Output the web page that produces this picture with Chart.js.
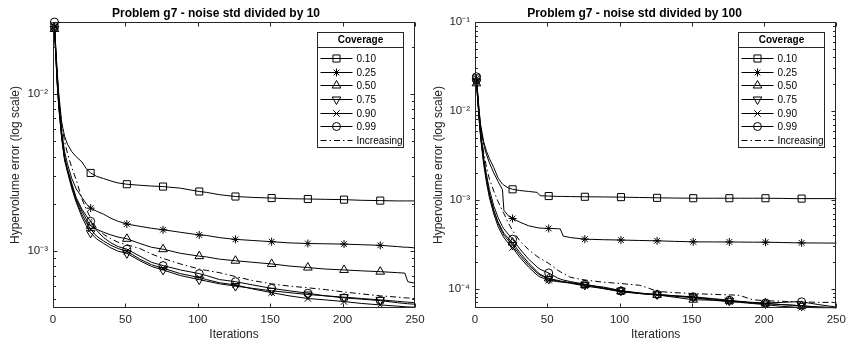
<!DOCTYPE html>
<html>
<head>
<meta charset="utf-8">
<script src="https://cdn.jsdelivr.net/npm/chart.js@4.4.1/dist/chart.umd.min.js"></script>
<style>
  body { margin: 0; background: #fff; }
  #wrap { position: relative; width: 846px; height: 347px; }
  canvas { position: absolute; top: 0; }
  #g10 { left: 0; }
  #g100 { left: 423px; }
</style>
</head>
<body>
<div id="wrap">
  <canvas id="g10" width="432" height="347"></canvas>
  <canvas id="g100" width="423" height="347"></canvas>
</div>
<script>
// legend entries
const coverageNames = ['0.10', '0.25', '0.50', '0.75', '0.90', '0.99', 'Increasing'];
const xTickValues = [0, 50, 100, 150, 200, 250];
const leftYTicks = [1e-3, 1e-2];
const rightYTicks = [1e-4, 1e-3, 1e-2, 1e-1];

// noise std / 10
const itersLeft = [1,2,3,4,6,8,10,13,16,20,23,26,30,35,40,45,51,60,68,76,88,101,106,115,126,138,151,163,176,188,201,213,226,238,243,245,250];
const left010 = [0.027,0.019,0.0135,0.010,0.0066,0.0054,0.0048, 0.0043,0.0040,0.0037,0.00335,0.00315, 0.0030,0.0029,0.0028,0.00272,0.00267, 0.00263,0.0026,0.00258,0.00252, 0.0024,0.00237,0.00229,0.00223, 0.0022,0.00218,0.00216,0.00215, 0.00214,0.00213,0.00211,0.0021, 0.00209,0.00209,0.00209,0.00209];
const left025 = [0.027,0.018,0.012,0.009,0.0058,0.0043,0.0036, 0.0029,0.0025,0.0022,0.0020,0.00188, 0.0018,0.00172,0.00162,0.00155,0.00149, 0.00144,0.0014,0.00137,0.00132, 0.00127,0.00126,0.00122,0.00119, 0.00117,0.00115,0.00113,0.00112, 0.001115,0.00111,0.0011,0.00109, 0.00107,0.00106,0.00106,0.00105];
const left050 = [0.026,0.017,0.0115,0.0085,0.0054,0.0039,0.0033, 0.0026,0.00215,0.0018,0.0016,0.00145, 0.00138,0.00132,0.00127,0.00123,0.0012, 0.00112,0.00106,0.00103,0.00097, 0.00093,0.00092,0.00089,0.00087, 0.00085,0.00083,0.000805,0.000787, 0.00077,0.00076,0.00075,0.000741, 0.00073,0.000725,0.00064,0.000625];
const left075 = [0.026,0.017,0.0112,0.0082,0.0052,0.0038,0.0032, 0.0025,0.00205,0.00165,0.00145,0.00131, 0.0012,0.00112,0.00105,0.001,0.00097, 0.00087,0.0008,0.00076,0.0007, 0.00066,0.000645,0.00062,0.0006, 0.00058,0.00056,0.000545,0.00053, 0.00052,0.00051,0.0005,0.00049, 0.00048,0.000475,0.000474,0.00047];
const left090 = [0.027,0.0175,0.0115,0.0084,0.0053,0.00385,0.00325, 0.0026,0.0021,0.00172,0.00152,0.00138, 0.00125,0.00116,0.00109,0.00104,0.001, 0.00089,0.00082,0.00078,0.00072, 0.00068,0.00066,0.00063,0.00061, 0.000575,0.000545,0.00052,0.0005, 0.00049,0.000478,0.000465,0.000455, 0.000447,0.000443,0.000442,0.00044];
const left099 = [0.0288,0.019,0.0125,0.009,0.0056,0.004,0.00335, 0.0027,0.0022,0.00185,0.00168,0.00155, 0.00136,0.00122,0.00113,0.00107,0.00103, 0.00093,0.00085,0.00081,0.00076, 0.00072,0.0007,0.00066,0.00064, 0.00061,0.00058,0.00056,0.00054, 0.00052,0.000505,0.000495,0.000485, 0.00047,0.000465,0.000463,0.00046];
const leftInc = [0.027,0.019,0.013,0.0098,0.0065,0.005,0.0042, 0.0034,0.00285,0.00215,0.00185,0.00162, 0.0014,0.00128,0.0012,0.00114,0.0011, 0.00104,0.00096,0.0009,0.00083, 0.00077,0.000755,0.00073,0.00069, 0.00065,0.00062,0.0006,0.000585, 0.00057,0.00055,0.000535,0.00052, 0.00051,0.000505,0.000504,0.0005];

// noise std / 100
const itersRight = [1,2,3,4,6,8,10,13,16,19,20,23,26,31,37,43,45,51,57,59,61,66,76,89,101,114,121,126,138,151,165,176,183,192,201,213,220,226,238,250];
const right010 = [0.0232,0.015,0.0095,0.0068,0.0045,0.0035,0.0029, 0.0023,0.00175,0.0015,0.00146,0.00136,0.00131, 0.00127,0.00124,0.00121,0.00111,0.0011, 0.00109,0.00109,0.00109,0.001085,0.00108, 0.001075,0.00107,0.00106,0.001055,0.00105, 0.001045,0.00104,0.00104,0.00104,0.00104, 0.00104,0.00104,0.001035,0.00103,0.00103, 0.00103,0.00103];
const right025 = [0.023,0.0145,0.0092,0.0065,0.0042,0.0032,0.0026, 0.002,0.0016,0.0013,0.00076,0.00066,0.000615, 0.00056,0.00051,0.000485,0.00048,0.000475, 0.000472,0.00047,0.00039,0.000375,0.00036, 0.000355,0.000352,0.000348,0.000346,0.000345, 0.00034,0.000336,0.000335,0.000335,0.000334, 0.000333,0.000333,0.00033,0.000328,0.000327, 0.000326,0.000325];
const right050 = [0.0204,0.0125,0.0076,0.005,0.0027,0.0017,0.00115, 0.00076,0.00056,0.00045,0.00042,0.00037,0.00033, 0.000255,0.000195,0.000155,0.000145,0.00013, 0.000124,0.000122,0.00012,0.000117,0.00011, 0.0001,0.000093,0.000088,0.000086,0.000085, 0.00008,0.000075,0.000074,0.000073,0.000071, 0.000069,0.000068,0.000066,0.000065,0.000064, 0.000062,0.000061];
const right075 = [0.021,0.0128,0.0078,0.0051,0.00275,0.00172,0.00115, 0.00075,0.00054,0.00043,0.0004,0.00035,0.00031, 0.00024,0.000185,0.00015,0.000142,0.000128, 0.000122,0.00012,0.000119,0.000116,0.00011, 0.000104,0.000095,0.000089,0.000087,0.000086, 0.000083,0.00008,0.000076,0.000073,0.000071, 0.000069,0.000068,0.000066,0.000065,0.000064, 0.000062,0.000061];
const right090 = [0.0215,0.0125,0.0075,0.0048,0.0025,0.00155,0.00105, 0.00069,0.0005,0.0004,0.000375,0.000325,0.00029, 0.000225,0.000175,0.000142,0.000135,0.000124, 0.00012,0.000119,0.000118,0.000115,0.000107, 0.0001,0.000092,0.000088,0.000086,0.000085, 0.000082,0.000079,0.000074,0.000071,0.00007, 0.000068,0.000066,0.000063,0.000062,0.0000615, 0.000061,0.000061];
const right099 = [0.0242,0.014,0.0083,0.0055,0.003,0.0019,0.0013, 0.00085,0.00063,0.0005,0.00047,0.00041,0.00036, 0.00028,0.000215,0.000175,0.000165,0.00015, 0.000132,0.000128,0.000125,0.00012,0.000112, 0.000102,0.000094,0.000089,0.000087,0.000086, 0.000083,0.000081,0.000077,0.000074,0.000072, 0.00007,0.000069,0.00007,0.000071,0.000071, 0.000066,0.000062];
const rightInc = [0.022,0.0135,0.0085,0.006,0.0034,0.0023,0.0017, 0.00125,0.00095,0.00075,0.0007,0.00055,0.00045, 0.000345,0.000275,0.00023,0.00022,0.000192, 0.000162,0.000155,0.000148,0.000134,0.000125, 0.000118,0.000114,0.000109,0.0001,0.000093, 0.00009,0.000088,0.000086,0.000085,0.000084, 0.000075,0.000073,0.000072,0.000071,0.000071, 0.00007,0.00007];

const FONT = "'Liberation Sans', Arial, Helvetica, sans-serif";
const AX = '#262626';
Chart.defaults.font.family = FONT;

// marker look for each coverage line (matlab style)
const markers = [
    { pointStyle: 'rect', radius: 5 },
    { pointStyle: 'star', radius: 4 },
    { pointStyle: 'triangle', radius: 5 },
    { pointStyle: 'triangle', radius: 5, rotation: 180 },
    { pointStyle: 'crossRot', radius: 4.5 },
    { pointStyle: 'circle', radius: 4 },
    { pointStyle: false, radius: 0, dash: [6, 3, 1.5, 3] }
];

function supLabel(v) {
    const sup = { '-': '\u207B', '0': '\u2070', '1': '\u00B9', '2': '\u00B2', '3': '\u00B3', '4': '\u2074' };
    const e = String(Math.round(Math.log10(v)));
    return '10' + e.split('').map(c => sup[c]).join('');
}

function makeDatasets(iters, series) {
    return series.map((vals, i) => {
        const m = markers[i];
        return {
            label: coverageNames[i],
            data: iters.map((it, k) => ({ x: it, y: vals[k] })),
            borderColor: '#000',
            borderWidth: 1,
            borderDash: m.dash || [],
            tension: 0,
            clip: false,
            pointStyle: m.pointStyle,
            pointRotation: m.rotation || 0,
            pointBorderColor: '#000',
            pointBorderWidth: 1,
            pointBackgroundColor: 'rgba(0,0,0,0)',
            // a marker every 25 iterations, starting at 1
            pointRadius: ctx => (m.radius && ctx.raw && (ctx.raw.x - 1) % 25 === 0) ? m.radius : 0,
            pointHoverRadius: 0
        };
    });
}

// box, inward ticks on all four sides, legend with title
const matlabAxes = {
    id: 'matlabAxes',
    afterDraw(chart) {
        const { ctx, chartArea: a, scales: { x, y } } = chart;
        const L = Math.round(a.left) + 0.5, R = Math.round(a.right) - 0.5;
        const T = Math.round(a.top) + 0.5, B = Math.round(a.bottom) - 0.5;
        ctx.save();
        ctx.strokeStyle = AX;
        ctx.lineWidth = 1;
        ctx.setLineDash([]);
        ctx.strokeRect(L, T, R - L, B - T);
        ctx.beginPath();
        xTickValues.forEach(v => {
            const px = Math.round(x.getPixelForValue(v)) + 0.5;
            ctx.moveTo(px, B); ctx.lineTo(px, B - 4);
            ctx.moveTo(px, T); ctx.lineTo(px, T + 4);
        });
        const lo = Math.floor(Math.log10(y.min)), hi = Math.ceil(Math.log10(y.max));
        for (let e = lo; e <= hi; e++) {
            for (let k = 1; k <= 9; k++) {
                const v = k * Math.pow(10, e);
                if (v < y.min * 0.999 || v > y.max * 1.001) continue;
                const len = k === 1 ? 4 : 2.5;
                const py = Math.round(y.getPixelForValue(v)) + 0.5;
                ctx.moveTo(L, py); ctx.lineTo(L + len, py);
                ctx.moveTo(R, py); ctx.lineTo(R - len, py);
            }
        }
        ctx.stroke();

        // legend
        const w = 86, h = 115;
        const x0 = Math.round(a.right - 12 - w) + 0.5, y0 = Math.round(a.top + 10) + 0.5;
        ctx.fillStyle = '#fff';
        ctx.fillRect(x0, y0, w, h);
        ctx.strokeRect(x0, y0, w, h);
        ctx.beginPath();
        ctx.moveTo(x0, y0 + 15); ctx.lineTo(x0 + w, y0 + 15);
        ctx.stroke();
        ctx.fillStyle = '#000';
        ctx.font = 'bold 10px ' + FONT;
        ctx.textAlign = 'center';
        ctx.textBaseline = 'middle';
        ctx.fillText('Coverage', x0 + w / 2, y0 + 8);
        ctx.font = '10px ' + FONT;
        ctx.textAlign = 'left';
        chart.data.datasets.forEach((ds, i) => {
            const m = markers[i];
            const ly = Math.round(y0 + 25.5 + i * 13.67) + 0.5;
            ctx.strokeStyle = '#000';
            ctx.lineWidth = 1;
            ctx.setLineDash(m.dash || []);
            ctx.beginPath();
            ctx.moveTo(x0 + 3, ly); ctx.lineTo(x0 + 35, ly);
            ctx.stroke();
            ctx.setLineDash([]);
            if (m.pointStyle) {
                ctx.fillStyle = 'rgba(0,0,0,0)';
                Chart.helpers.drawPoint(ctx, { pointStyle: m.pointStyle, radius: m.radius, rotation: m.rotation || 0, borderWidth: 1 }, x0 + 19, ly);
            }
            ctx.fillStyle = '#000';
            ctx.fillText(coverageNames[i], x0 + 39, ly + 0.5);
        });
        ctx.restore();
    }
};

function makeChart(id, title, iters, series, yMin, yMax, yTicks, axisW, padRight) {
    return new Chart(document.getElementById(id), {
        type: 'line',
        data: { datasets: makeDatasets(iters, series) },
        options: {
            responsive: false,
            animation: false,
            events: [],
            layout: { padding: 0 },
            plugins: {
                legend: { display: false },
                tooltip: { enabled: false },
                title: {
                    display: true,
                    text: title,
                    color: '#000',
                    font: { size: 12, weight: 'bold' },
                    padding: { top: 6, bottom: 1.6 }
                }
            },
            scales: {
                x: {
                    type: 'linear',
                    min: 0,
                    max: 250,
                    grid: { display: false, drawTicks: false, tickLength: 0 },
                    border: { display: false },
                    afterBuildTicks: s => { s.ticks = xTickValues.map(v => ({ value: v })); },
                    ticks: { color: AX, font: { size: 11.5 }, padding: 5, maxRotation: 0 },
                    title: { display: true, text: 'Iterations', color: AX, font: { size: 12 }, padding: { top: 0, bottom: 5 } },
                    afterFit: s => { s.height = 39; s.paddingLeft = 0; s.paddingRight = padRight; }
                },
                y: {
                    type: 'logarithmic',
                    min: yMin,
                    max: yMax,
                    grid: { display: false, drawTicks: false, tickLength: 0 },
                    border: { display: false },
                    afterBuildTicks: s => { s.ticks = yTicks.map(v => ({ value: v, major: true })); },
                    ticks: { color: AX, font: { size: 11.5 }, padding: 5, autoSkip: false, callback: v => supLabel(v) },
                    title: { display: true, text: 'Hypervolume error (log scale)', color: AX, font: { size: 12 }, padding: { top: 8, bottom: 0 } },
                    afterFit: s => { s.width = axisW; s.paddingTop = 0; s.paddingBottom = 0; }
                }
            }
        },
        plugins: [matlabAxes]
    });
}

makeChart('g10', 'Problem g7 - noise std divided by 10', itersLeft,
    [left010, left025, left050, left075, left090, left099, leftInc],
    4.35e-4, 0.0288, leftYTicks, 53, 17);
makeChart('g100', 'Problem g7 - noise std divided by 100', itersRight,
    [right010, right025, right050, right075, right090, right099, rightInc],
    6.05e-5, 0.1, rightYTicks, 52, 9.7);
</script>
</body>
</html>
